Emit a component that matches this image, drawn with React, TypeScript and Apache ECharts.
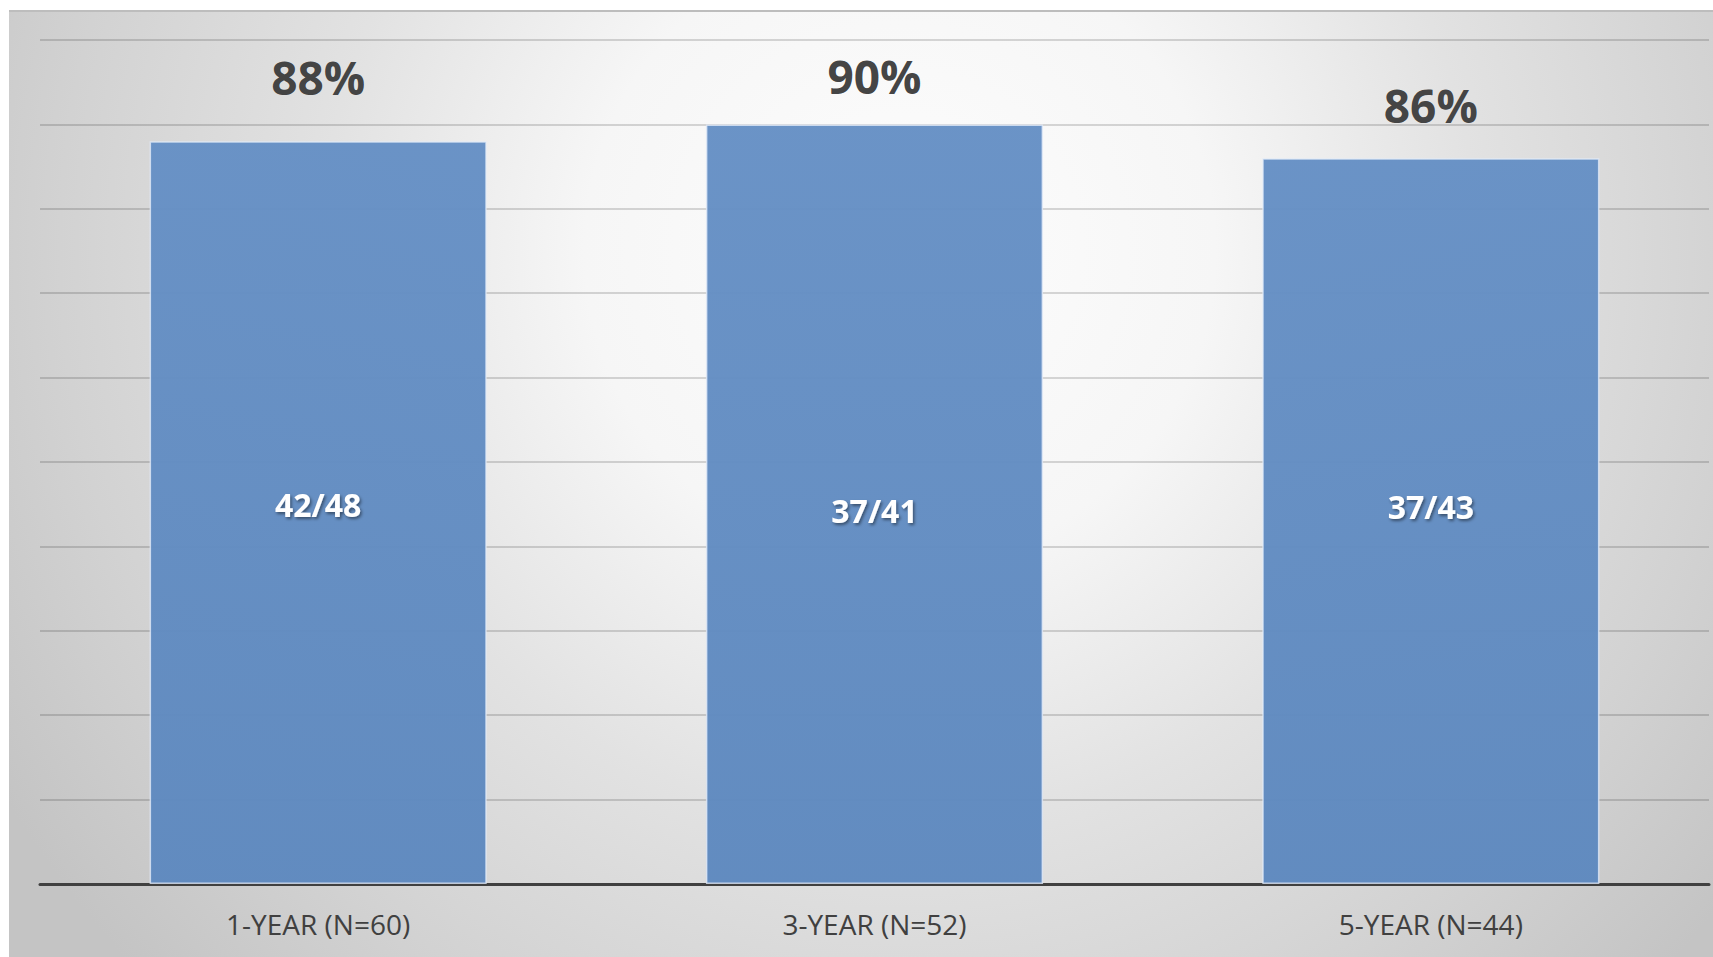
import React, { useEffect, useRef } from "react";
import * as echarts from "echarts";

const categories = ["1-YEAR (N=60)", "3-YEAR (N=52)", "5-YEAR (N=44)"];
const percentValues = [88, 90, 86];
const fractionLabels = ["42/48", "37/41", "37/43"];
const yTicks = { min: 0, max: 100, interval: 10 };

// label placement tweaks (style only)
const pctLabelGap = [41, 25, 30];
const fractionOffsetY = [-8, 6, -15];

const FONT = "'Open Sans', 'Noto Sans', sans-serif";

export default function App() {
  const ref = useRef<HTMLDivElement>(null);

  useEffect(() => {
    if (!ref.current) return;
    const chart = echarts.init(ref.current, undefined, { renderer: "svg" });

    const barFill = new echarts.graphic.LinearGradient(0, 0, 0, 1, [
      { offset: 0, color: "#6690c5" },
      { offset: 1, color: "#5e89bf" },
    ]);

    const bg = new echarts.graphic.RadialGradient(
      900,
      250,
      1050,
      [
        { offset: 0, color: "#fdfdfd" },
        { offset: 0.3, color: "#f6f6f6" },
        { offset: 0.55, color: "#e2e2e2" },
        { offset: 0.8, color: "#d2d2d2" },
        { offset: 1, color: "#c4c4c4" },
      ],
      true
    );

    const option: any = {
      animation: false,
      textStyle: { fontFamily: FONT },
      graphic: [
        {
          type: "rect",
          z: -100,
          silent: true,
          shape: { x: 9, y: 10, width: 1704, height: 947 },
          style: { fill: bg },
        },
        {
          type: "line",
          z: -99,
          silent: true,
          shape: { x1: 9, y1: 11, x2: 1713, y2: 11 },
          style: { stroke: "#bdbdbd", lineWidth: 2 },
        },
      ],
      grid: { left: 40, right: 4, top: 40, bottom: 73, containLabel: false },
      xAxis: {
        type: "category",
        data: categories,
        axisLine: { show: true, lineStyle: { color: "#404040", width: 3 } },
        axisTick: { show: false },
        axisLabel: {
          color: "#404040",
          fontSize: 28,
          fontFamily: FONT,
          margin: 26,
        },
      },
      yAxis: {
        type: "value",
        min: yTicks.min,
        max: yTicks.max,
        interval: yTicks.interval,
        axisLine: { show: false },
        axisTick: { show: false },
        axisLabel: { show: false },
        splitLine: {
          show: true,
          lineStyle: { color: "rgba(0,0,0,0.2)", width: 1.5 },
        },
      },
      series: [
        {
          type: "bar",
          barCategoryGap: "39.4%",
          barGap: "-100%",
          z: 2,
          data: percentValues.map((v, i) => ({
            value: v,
            label: { distance: pctLabelGap[i] },
          })),
          itemStyle: {
            color: barFill,
            opacity: 0.97,
            borderColor: "rgba(225,235,248,0.8)",
            borderWidth: 1.5,
          },
          label: {
            show: true,
            position: "top",
            formatter: (p: any) => `${p.value}%`,
            fontSize: 46,
            fontWeight: "bold",
            color: "#404040",
            fontFamily: FONT,
          },
        },
        {
          type: "bar",
          barCategoryGap: "39.4%",
          barGap: "-100%",
          z: 3,
          silent: true,
          data: percentValues.map((v, i) => ({
            value: v,
            label: { offset: [0, fractionOffsetY[i]] },
          })),
          itemStyle: { color: "rgba(0,0,0,0)" },
          label: {
            show: true,
            position: "inside",
            formatter: (p: any) => fractionLabels[p.dataIndex],
            fontSize: 32,
            fontWeight: "bold",
            color: "#ffffff",
            fontFamily: FONT,
            textShadowColor: "rgba(0,0,0,0.45)",
            textShadowBlur: 3,
            textShadowOffsetX: 1.5,
            textShadowOffsetY: 2,
          },
        },
      ],
    };

    chart.setOption(option);
    return () => chart.dispose();
  }, []);

  return (
    <div
      ref={ref}
      style={{
        position: "absolute",
        left: 0,
        top: 0,
        width: 1713,
        height: 957,
      }}
    />
  );
}
